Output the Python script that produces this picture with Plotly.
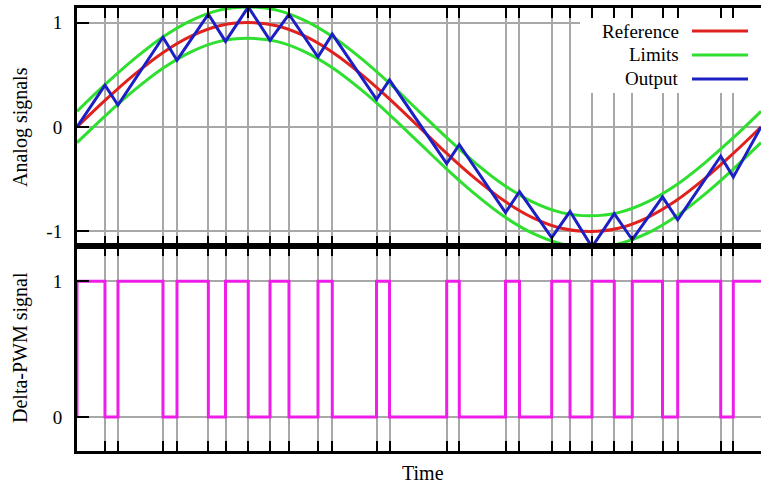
import plotly.graph_objects as go

# ---------------- data ----------------
# time axis spans one period, normalised to 0..1
t_ref = [0.0, 0.0417, 0.0833, 0.125, 0.1667, 0.2083, 0.25, 0.2917, 0.3333,
         0.375, 0.4167, 0.4583, 0.5, 0.5417, 0.5833, 0.625, 0.6667, 0.7083,
         0.75, 0.7917, 0.8333, 0.875, 0.9167, 0.9583, 1.0]
reference = [0.0, 0.26, 0.50, 0.71, 0.87, 0.97, 1.00, 0.97, 0.87, 0.71, 0.50,
             0.26, 0.0, -0.26, -0.50, -0.71, -0.87, -0.97, -1.00, -0.97,
             -0.87, -0.71, -0.50, -0.26, 0.0]
limit_upper = [0.15, 0.41, 0.65, 0.86, 1.02, 1.12, 1.15, 1.12, 1.02, 0.86,
               0.65, 0.41, 0.15, -0.11, -0.35, -0.56, -0.72, -0.82, -0.85,
               -0.82, -0.72, -0.56, -0.35, -0.11, 0.15]
limit_lower = [-0.15, 0.11, 0.35, 0.56, 0.72, 0.82, 0.85, 0.82, 0.72, 0.56,
               0.35, 0.11, -0.15, -0.41, -0.65, -0.86, -1.02, -1.12, -1.15,
               -1.12, -1.02, -0.86, -0.65, -0.41, -0.15]

# switching instants of the delta modulator
switch_t = [0.0409, 0.0599, 0.1257, 0.1462, 0.1920, 0.2171, 0.2504, 0.2822,
            0.3099, 0.3523, 0.3732, 0.4379, 0.4569, 0.5405, 0.5589, 0.6265,
            0.6469, 0.6940, 0.7208, 0.7529, 0.7855, 0.8118, 0.8560, 0.8782,
            0.9411, 0.9595]

# triangular output (vertices at start, switching instants, end)
output_t = [0.0, 0.0409, 0.0599, 0.1257, 0.1462, 0.1920, 0.2171, 0.2504,
            0.2822, 0.3099, 0.3523, 0.3732, 0.4379, 0.4569, 0.5405, 0.5589,
            0.6265, 0.6469, 0.6940, 0.7208, 0.7529, 0.7855, 0.8118, 0.8560,
            0.8782, 0.9411, 0.9595, 1.0]
output_v = [0.0, 0.40, 0.21, 0.86, 0.64, 1.08, 0.82, 1.15, 0.83, 1.08, 0.67,
            0.89, 0.265, 0.45, -0.35, -0.17, -0.82, -0.62, -1.06, -0.81,
            -1.15, -0.83, -1.08, -0.67, -0.89, -0.28, -0.48, 0.0]

# Delta-PWM signal (step, held after each instant)
pwm_t = [0.0, 0.0, 0.0409, 0.0599, 0.1257, 0.1462, 0.1920, 0.2171, 0.2504,
         0.2822, 0.3099, 0.3523, 0.3732, 0.4379, 0.4569, 0.5405, 0.5589,
         0.6265, 0.6469, 0.6940, 0.7208, 0.7529, 0.7855, 0.8118, 0.8560,
         0.8782, 0.9411, 0.9595, 1.0]
pwm_v = [0, 1, 0, 1, 0, 1, 0, 1, 0, 1, 0, 1, 0, 1, 0, 1, 0, 1, 0, 1, 0, 1, 0,
         1, 0, 1, 0, 1, 1]

top_ticks = [-1, 0, 1]
top_ticktext = ["-1", "0", "1"]
bottom_ticks = [0, 1]
bottom_ticktext = ["0", "1"]

legend_names = ["Reference", "Limits", "Output"]

# ---------------- style ----------------
RED = "#e0221e"
GREEN = "#2fdf2f"
BLUE = "#1c1fc4"
MAGENTA = "#ee1ee8"
GRID = "#a8a8a8"
FONT = "Liberation Serif"

W, H = 761, 484
ML, MR, MT, MB = 77, 0, 8, 33
plot_h = H - MT - MB
split = (451 - 246) / plot_h

fig = go.Figure()
fig.add_trace(go.Scatter(x=t_ref, y=limit_upper, mode="lines", name="Limits",
                         line=dict(color=GREEN, width=3, shape="spline"),
                         xaxis="x", yaxis="y", showlegend=False))
fig.add_trace(go.Scatter(x=t_ref, y=limit_lower, mode="lines", name="Limits",
                         line=dict(color=GREEN, width=3, shape="spline"),
                         xaxis="x", yaxis="y", showlegend=False))
fig.add_trace(go.Scatter(x=t_ref, y=reference, mode="lines", name="Reference",
                         line=dict(color=RED, width=3, shape="spline"),
                         xaxis="x", yaxis="y", showlegend=False))
fig.add_trace(go.Scatter(x=output_t, y=output_v, mode="lines", name="Output",
                         line=dict(color=BLUE, width=3),
                         xaxis="x", yaxis="y", showlegend=False))
fig.add_trace(go.Scatter(x=pwm_t, y=pwm_v, mode="lines", name="Delta-PWM",
                         line=dict(color=MAGENTA, width=3, shape="hv"),
                         xaxis="x2", yaxis="y2", showlegend=False))

xcommon = dict(range=[0, 1], tickvals=switch_t, showticklabels=False,
               ticks="inside", ticklen=10, tickwidth=2, tickcolor="black",
               showgrid=True, gridcolor=GRID, gridwidth=2, zeroline=False,
               showline=True, linecolor="black", linewidth=3, mirror="ticks")
ycommon = dict(ticks="inside", ticklen=12, tickwidth=2, tickcolor="black",
               showgrid=True, gridcolor=GRID, gridwidth=2, zeroline=False,
               showline=True, linecolor="black", linewidth=3, mirror=False,
               tickfont=dict(family=FONT, size=19, color="black"),
               ticklabelstandoff=8)

fig.update_layout(
    width=W, height=H,
    margin=dict(l=ML, r=MR, t=MT, b=MB),
    paper_bgcolor="white", plot_bgcolor="white",
    showlegend=False,
    font=dict(family=FONT, size=19, color="black"),
    xaxis=dict(domain=[0, 1], anchor="y", **xcommon),
    yaxis=dict(domain=[split, 1], anchor="x", range=[-1.14, 1.14],
               tickvals=top_ticks, ticktext=top_ticktext, **ycommon),
    xaxis2=dict(domain=[0, 1], anchor="y2", matches="x", **xcommon),
    yaxis2=dict(domain=[0, split], anchor="x2", range=[-0.25, 1.26],
                tickvals=bottom_ticks, ticktext=bottom_ticktext, **ycommon),
)

def px_x(px):
    return (px - ML) / (W - ML - MR)

def px_y(py):
    return (H - MB - py) / plot_h

# axis titles
fig.add_annotation(text="Analog signals", xref="paper", yref="paper",
                   x=px_x(20), y=px_y(127), textangle=-90, showarrow=False,
                   xanchor="center", yanchor="middle",
                   font=dict(family=FONT, size=20, color="black"))
fig.add_annotation(text="Delta-PWM signal", xref="paper", yref="paper",
                   x=px_x(20), y=px_y(348), textangle=-90, showarrow=False,
                   xanchor="center", yanchor="middle",
                   font=dict(family=FONT, size=20, color="black"))
fig.add_annotation(text="Time", xref="paper", yref="paper",
                   x=px_x(423), y=px_y(473), showarrow=False,
                   xanchor="center", yanchor="middle",
                   font=dict(family=FONT, size=20, color="black"))

# key (text right-aligned, sample line to the right) on an opaque box
fig.add_shape(type="rect", xref="paper", yref="paper",
              x0=px_x(580), x1=1.0, y0=px_y(93), y1=px_y(18),
              fillcolor="white", line=dict(width=0), layer="above")
row_y = [31, 55, 79]
row_col = [RED, GREEN, BLUE]
for name, ry, col in zip(legend_names, row_y, row_col):
    fig.add_annotation(text=name, xref="paper", yref="paper",
                       x=px_x(681), y=px_y(ry), showarrow=False,
                       xanchor="right", yanchor="middle",
                       font=dict(family=FONT, size=19, color="black"))
    fig.add_shape(type="line", xref="paper", yref="paper",
                  x0=px_x(692), x1=px_x(748), y0=px_y(ry), y1=px_y(ry),
                  line=dict(color=col, width=3), layer="above")

fig.write_html(
    "out.html",
    config={"displayModeBar": False},
    post_script="document.body.style.margin='0px';"
                "document.body.style.overflow='hidden';",
)
